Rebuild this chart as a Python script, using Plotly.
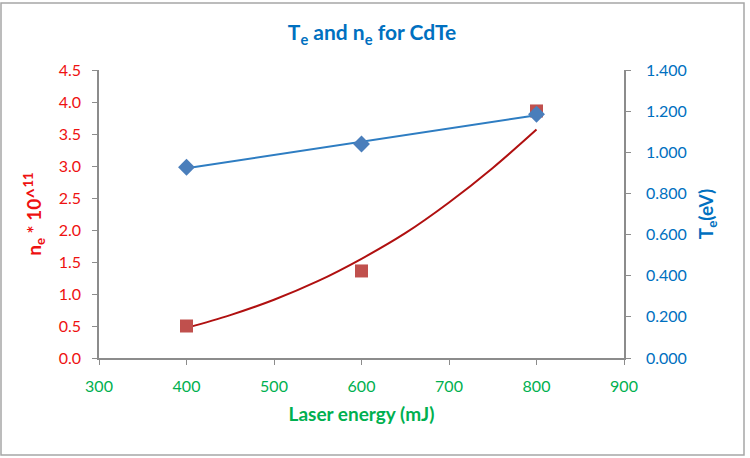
import plotly.graph_objects as go

# Data
energy = [400, 600, 800]
ne_vals = [0.50, 1.36, 3.86]          # n_e * 10^11
te_vals = [0.927, 1.040, 1.185]       # T_e (eV)

# Trendline values
ne_trend_x = [400, 450, 500, 550, 600, 650, 700, 750, 800]
ne_trend_y = [0.47, 0.67, 0.91, 1.20, 1.55, 1.95, 2.43, 2.97, 3.57]
te_trend_x = [400, 800]
te_trend_y = [0.922, 1.180]

x_ticks = [300, 400, 500, 600, 700, 800, 900]

FONT = "Lato"
RED = "#EE1111"
BLUE = "#0070C0"
GREEN = "#00B050"
AXIS = "#8C8C8C"

fig = go.Figure()
fig.add_trace(go.Scatter(x=ne_trend_x, y=ne_trend_y, mode="lines", line_shape="spline",
                         line=dict(color="#B01010", width=2), yaxis="y", showlegend=False))
fig.add_trace(go.Scatter(x=energy, y=ne_vals, mode="markers",
                         marker=dict(symbol="square", size=13, color="#C0504D"),
                         yaxis="y", showlegend=False))
fig.add_trace(go.Scatter(x=te_trend_x, y=te_trend_y, mode="lines",
                         line=dict(color="#2E7DC2", width=2), yaxis="y2", showlegend=False))
fig.add_trace(go.Scatter(x=energy, y=te_vals, mode="markers",
                         marker=dict(symbol="diamond", size=13, color="#4A7EBB"),
                         yaxis="y2", showlegend=False))

L, R, T, B = 99, 126, 70, 100
W, H = 750, 458
pw, ph = W - L - R, H - T - B

fig.update_layout(
    width=W, height=H,
    margin=dict(l=L, r=R, t=T, b=B),
    paper_bgcolor="white", plot_bgcolor="white",
    font=dict(family=FONT),
    title=dict(text="<b>T<sub>e</sub> and n<sub>e</sub> for CdTe</b>",
               x=372 / W, xref="container", xanchor="center",
               y=1 - 33 / H, yref="container", yanchor="middle",
               font=dict(size=21, color=BLUE, family=FONT)),
    xaxis=dict(range=[300, 900], tickvals=x_ticks, showgrid=False, zeroline=False,
               showline=True, linecolor=AXIS, linewidth=1.5,
               ticks="outside", ticklen=5, tickcolor=AXIS,
               tickfont=dict(size=16, color=GREEN, family=FONT),
               ticklabelstandoff=8,
               title=dict(text="<b>Laser energy (mJ)</b>", standoff=14,
                          font=dict(size=19, color=GREEN, family=FONT))),
    yaxis=dict(range=[0, 4.5], dtick=0.5, tickformat=".1f", showgrid=False, zeroline=False,
               showline=True, linecolor=AXIS, linewidth=1.5,
               ticks="outside", ticklen=5, tickcolor=AXIS,
               tickfont=dict(size=16, color=RED, family=FONT),
               ticklabelstandoff=8,
               title=dict(text="<b>n<sub>e</sub> * 10^<sup>11</sup></b>", standoff=12,
                          font=dict(size=19, color=RED, family=FONT))),
    yaxis2=dict(range=[0, 1.4], dtick=0.2, tickformat=".3f", overlaying="y", side="right",
                showgrid=False, zeroline=False,
                showline=True, linecolor=AXIS, linewidth=1.5,
                ticks="outside", ticklen=5, tickcolor=AXIS,
                tickfont=dict(size=16, color=BLUE, family=FONT),
                ticklabelstandoff=12,
                title=dict(text="<b>T<sub>e</sub>(eV)</b>", standoff=14,
                           font=dict(size=19, color=BLUE, family=FONT))),
    shapes=[dict(type="rect", xref="paper", yref="paper",
                 x0=(1 - L) / pw, x1=(744 - L) / pw,
                 y0=(H - B - 455) / ph, y1=(H - B - 3) / ph,
                 line=dict(color="#A6A6A6", width=1.5), fillcolor="rgba(0,0,0,0)")],
)

fig.write_html("out.html")
